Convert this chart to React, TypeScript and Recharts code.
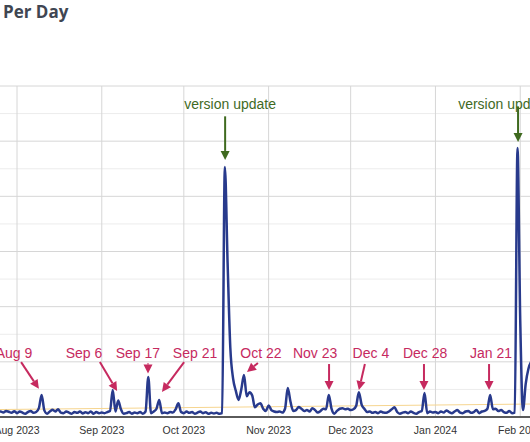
import React from "react";
import {
  LineChart,
  Line,
  XAxis,
  YAxis,
  CartesianGrid,
  ReferenceLine,
  ReferenceDot,
} from "recharts";

// day index 0 = Aug 1, 2023; series starts a week earlier
const START_DAY = -7;

const julTail = [18, 20, 16, 22, 19, 15, 21];
const aug = [
  14, 20, 16, 12, 18, 22, 15, 18, 32, 80, 24, 12, 20, 26, 20, 28, 16, 14, 20, 16,
  12, 18, 15, 20, 13, 17, 14, 20, 12, 18, 14,
];
const sep = [
  16, 14, 18, 22, 98, 20, 60, 28, 12, 14, 18, 12, 16, 14, 18, 12, 20, 145, 14, 20,
  30, 62, 14, 16, 14, 18, 16, 28, 50, 18,
];
const oct = [
  14, 20, 15, 18, 12, 16, 20, 14, 17, 12, 15, 13, 15, 12, 14, 906, 560, 250, 140, 95,
  62, 100, 152, 75, 90, 78, 35, 45, 50, 30, 22,
];
const nov = [
  42, 25, 20, 18, 20, 16, 30, 105, 55, 22, 25, 36, 30, 22, 25, 20, 32, 25, 16, 22,
  30, 28, 80, 30, 12, 22, 30, 32, 28, 30,
];
const dec = [
  25, 28, 40, 90, 45, 30, 18, 20, 15, 18, 14, 20, 16, 15, 20, 28, 35, 18, 12, 16,
  18, 14, 20, 15, 12, 18, 22, 87, 14, 20, 16,
];
const jan = [
  18, 14, 20, 16, 24, 18, 14, 20, 25, 16, 14, 20, 22, 15, 18, 25, 14, 20, 22, 30,
  80, 28, 30, 22, 25, 18, 15, 22, 14, 16, 975,
];
const feb = [350, 25, 120, 175, 200];

const dailyCounts = [...julTail, ...aug, ...sep, ...oct, ...nov, ...dec, ...jan, ...feb];
const data = dailyCounts.map((count, i) => ({ day: START_DAY + i, count }));

const monthTicks = [0, 31, 61, 92, 122, 153, 184];
const monthLabels = ["Aug 2023", "Sep 2023", "Oct 2023", "Nov 2023", "Dec 2023", "Jan 2024", "Feb 2024"];

const majorValues = [0, 200, 400, 600, 800, 1000, 1200];
const minorValues = [100, 300, 500, 700, 900, 1100];

// long-run average trend
const trendDays = [-7, 188];
const trendValues = [27, 47];

const RED = "#c62a5f";
const GREEN = "#3f6a1f";

// callouts: label position, arrow tail and arrow tip, all in (day, value)
const callouts = [
  { label: "Aug 9", color: RED, text: [-1.1, 232], tail: [1.5, 199], tip: [8.0, 102] },
  { label: "Sep 6", color: RED, text: [24.5, 232], tail: [30.3, 199], tip: [36.6, 94] },
  { label: "Sep 17", color: RED, text: [44.2, 232], tail: [47.9, 194], tip: [47.9, 158] },
  { label: "Sep 21", color: RED, text: [65.1, 232], tail: [61.1, 199], tip: [53.0, 91] },
  { label: "Oct 22", color: RED, text: [89.2, 232], tail: [88.1, 196], tip: [84.1, 163] },
  { label: "Nov 23", color: RED, text: [109, 232], tail: [114.1, 192], tip: [114.1, 98] },
  { label: "Dec 4", color: RED, text: [129.4, 232], tail: [127.2, 192], tip: [125.0, 98] },
  { label: "Dec 28", color: RED, text: [149.2, 232], tail: [148.8, 192], tip: [148.8, 98] },
  { label: "Jan 21", color: RED, text: [173.3, 232], tail: [172.6, 192], tip: [172.6, 98] },
  { label: "version update", color: GREEN, text: [77.9, 1135], tail: [76.1, 1090], tip: [76.1, 932] },
  { label: "version update", color: GREEN, text: [178.1, 1135], tail: [183.2, 1126], tip: [183.2, 997] },
];

const FONT = "'Liberation Sans', Arial, Helvetica, sans-serif";

function arrowShape(color: string) {
  return (p: any) => {
    const { x1, y1, x2, y2 } = p;
    const dx = x2 - x1;
    const dy = y2 - y1;
    const len = Math.hypot(dx, dy) || 1;
    const ux = dx / len;
    const uy = dy / len;
    const head = 9;
    const half = 4.5;
    const bx = x2 - ux * head;
    const by = y2 - uy * head;
    const pts = `${x2},${y2} ${bx - uy * half},${by + ux * half} ${bx + uy * half},${by - ux * half}`;
    return (
      <g>
        <line x1={x1} y1={y1} x2={bx} y2={by} stroke={color} strokeWidth={2} />
        <polygon points={pts} fill={color} />
      </g>
    );
  };
}

function labelShape(text: string, color: string) {
  return (p: any) => (
    <text
      x={p.cx}
      y={p.cy}
      textAnchor="middle"
      dominantBaseline="central"
      fontFamily={FONT}
      fontSize={14}
      fill={color}
    >
      {text}
    </text>
  );
}

export default function App() {
  return (
    <div
      style={{
        position: "absolute",
        left: 0,
        top: 0,
        width: 530,
        height: 442,
        overflow: "hidden",
        background: "#fff",
      }}
    >
      <div
        style={{
          position: "absolute",
          left: 3,
          top: 0,
          fontFamily: "'Open Sans', sans-serif",
          fontWeight: 700,
          fontSize: 17,
          lineHeight: "24px",
          color: "#3f4652",
          zIndex: 1,
        }}
      >
        Per Day
      </div>
      <LineChart
        width={530}
        height={442}
        data={data}
        margin={{ top: 86, right: 0, bottom: 0, left: 0 }}
      >
        <CartesianGrid
          horizontalValues={minorValues}
          vertical={false}
          stroke="#ececec"
          strokeWidth={1}
        />
        <CartesianGrid
          horizontalValues={majorValues}
          verticalValues={monthTicks}
          stroke="#d6d6d6"
          strokeWidth={1}
        />
        <XAxis
          dataKey="day"
          type="number"
          domain={[-6.2158, 187.57]}
          allowDataOverflow
          ticks={monthTicks}
          interval={0}
          tickFormatter={(v: number) => monthLabels[monthTicks.indexOf(v)] ?? ""}
          tickLine={false}
          tickMargin={4}
          height={25}
          axisLine={{ stroke: "#5a5a5a", strokeWidth: 2 }}
          tick={{ fontFamily: FONT, fontSize: 10.5, fill: "#333" }}
        />
        <YAxis hide domain={[0, 1200]} allowDataOverflow />
        <ReferenceLine
          segment={[
            { x: trendDays[0], y: trendValues[0] },
            { x: trendDays[1], y: trendValues[1] },
          ]}
          stroke="#f6d58f"
          strokeWidth={1}
          ifOverflow="hidden"
        />
        <Line
          type="monotone"
          dataKey="count"
          stroke="#283a8c"
          strokeWidth={2.5}
          dot={false}
          activeDot={false}
          isAnimationActive={false}
        />
        {callouts.map((c, i) => (
          <ReferenceLine
            key={`a${i}`}
            segment={[
              { x: c.tail[0], y: c.tail[1] },
              { x: c.tip[0], y: c.tip[1] },
            ]}
            ifOverflow="visible"
            shape={arrowShape(c.color)}
          />
        ))}
        {callouts.map((c, i) => (
          <ReferenceDot
            key={`t${i}`}
            x={c.text[0]}
            y={c.text[1]}
            r={0}
            ifOverflow="visible"
            shape={labelShape(c.label, c.color)}
          />
        ))}
      </LineChart>
    </div>
  );
}
